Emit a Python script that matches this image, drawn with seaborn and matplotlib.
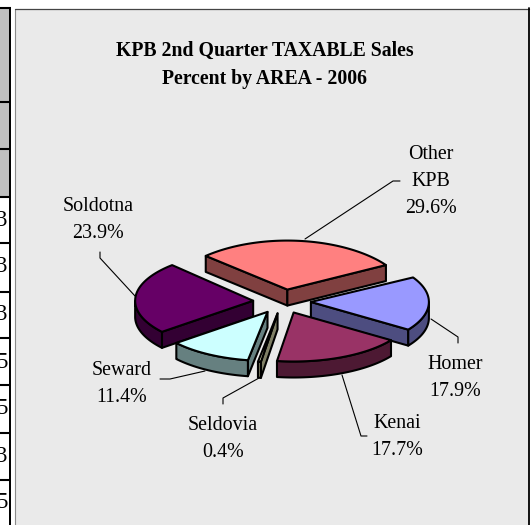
import numpy as np
import matplotlib
matplotlib.use("Agg")
import matplotlib.pyplot as plt
from matplotlib.patches import Polygon, Rectangle
import seaborn as sns

# --- data
areas = ["Other\nKPB", "Homer", "Kenai", "Seldovia", "Seward", "Soldotna"]
shares = [29.6, 17.9, 17.7, 0.4, 11.4, 23.9]
title_lines = ["KPB 2nd Quarter TAXABLE Sales", "Percent by AREA - 2006"]
top_colors = ["#FF8080", "#9999FF", "#993366", "#FFFFCC", "#CCFFFF", "#660066"]
side_colors = ["#804040", "#4D4D80", "#4D1933", "#808066", "#668080", "#330033"]
table_digits = ["3", "3", "3", "5", "5", "3", "5"]

# --- layout (pixels)
W, H = 532, 525
CX, CY = 282, 301.5
RX, RY = 118, 49
DEPTH = 16
EXPLODE = 0.245
START = 136.6
back_narrow = [0.07, 0, 0, 0, 0, 0]
shift_x = [2, 0, 0, 0, 0, 0]
label_xy = [(431, 159), (455, 369), (397, 428), (223, 430), (122, 375), (98, 211)]
LINE_H = 27
leaders = [
    [(305, 239), (393, 181), (400, 181)],
    [(431, 319), (458, 337), (458, 343)],
    [(342, 375), (361, 436), (367, 436)],
    [(259, 378), (223, 398), (223, 404)],
    [(205, 371), (170, 379), (160, 379)],
    [(135, 296), (100, 258), (100, 252)],
]
table_lines = [102, 149, 197, 243, 292, 338, 385, 433, 480]
table_centers = [220, 267, 315, 362, 409, 456, 503]

sns.set_style("white")
plt.rcParams["font.family"] = ["Liberation Serif", "DejaVu Serif"]
palette_top = sns.color_palette(top_colors)
palette_side = sns.color_palette(side_colors)

fig = plt.figure(figsize=(W / 100, H / 100), dpi=100, facecolor="white")
ax = fig.add_axes([0, 0, 1, 1])
ax.set_xlim(0, W)
ax.set_ylim(H, 0)
ax.axis("off")

# clipped neighbouring table on the left
ax.add_patch(Rectangle((0, 8), 8.5, table_lines[2] - 8, fc="#C0C0C0", ec="none", zorder=1))
ax.plot([0, 11], [8, 8], color="black", lw=1.5, zorder=2, solid_capstyle="butt")
ax.add_patch(Rectangle((8.5, 7), 2.5, H, fc="black", ec="none", zorder=2))
for y in table_lines:
    ax.plot([0, 8.5], [y, y], color="black", lw=1.5, zorder=2, solid_capstyle="butt")
for d, y in zip(table_digits, table_centers):
    ax.text(7.5, y, d, ha="right", va="center", fontsize=16.5, color="black", zorder=1.5)

# chart panel
ax.add_patch(Rectangle((14.5, 8.5), 514, H, fc="#EAEAEA", ec="none", zorder=1))
ax.plot([14.5, 14.5], [8.5, H], color="#8A8A8A", lw=0.8, zorder=2)
ax.plot([14.5, 529], [8.5, 8.5], color="#444444", lw=0.9, zorder=2)
ax.plot([528.7, 528.7], [8, H], color="black", lw=1.3, zorder=2)

for i, line in enumerate(title_lines):
    ax.text(265, 56 + 28 * i, line, ha="center", va="baseline", fontsize=14.2,
            fontweight="bold", color="black", zorder=5)

EC = dict(ec="black", lw=1.5, joinstyle="round")
starts = START - np.cumsum([0] + shares[:-1]) * 3.6
order = [0, 5, 1, 4, 2, 3]
for i in order:
    s = starts[i]
    e = s - shares[i] * 3.6
    mid = np.radians((s + e) / 2)
    ox = CX + EXPLODE * RX * np.cos(mid) + shift_x[i]
    oy = CY - EXPLODE * RY * np.sin(mid)
    k = back_narrow[i]

    def pt(deg):
        r = np.radians(deg)
        dy = -RY * np.sin(r)
        return ox + RX * np.cos(r) * (1 + k * dy / RY), oy + dy

    apex = (ox, oy)
    angs = np.linspace(s, e, 80)
    arc = np.array([pt(a) for a in angs])
    top = np.vstack([apex, arc])
    # visible radial faces
    for edge, normal in ((s, s + 90), (e, e - 90)):
        if np.sin(np.radians(normal)) < 0:
            p = pt(edge)
            q = [apex, p, (p[0], p[1] + DEPTH), (ox, oy + DEPTH)]
            ax.add_patch(Polygon(q, closed=True, fc=palette_side[i], zorder=3, **EC))
    # visible part of the outer wall (lower half of the disc)
    low = [a for a in angs if np.sin(np.radians(a)) <= 0]
    if len(low) > 1:
        c = np.array([pt(a) for a in low])
        wall = np.vstack([c, c[::-1] + [0, DEPTH]])
        ax.add_patch(Polygon(wall, closed=True, fc=palette_side[i], zorder=3, **EC))
    ax.add_patch(Polygon(top, closed=True, fc=palette_top[i], zorder=3, **EC))

for i, (name, val) in enumerate(zip(areas, shares)):
    x, y = label_xy[i]
    lines = name.split("\n") + [f"{val:.1f}%"]
    for j, line in enumerate(lines):
        ax.text(x, y + j * LINE_H, line, ha="center", va="baseline", fontsize=14.4,
                color="black", zorder=5)
    lx, ly = zip(*leaders[i])
    ax.plot(lx, ly, color="black", lw=0.8, zorder=2.5)

fig.savefig("out.png", dpi=100, facecolor="white")
